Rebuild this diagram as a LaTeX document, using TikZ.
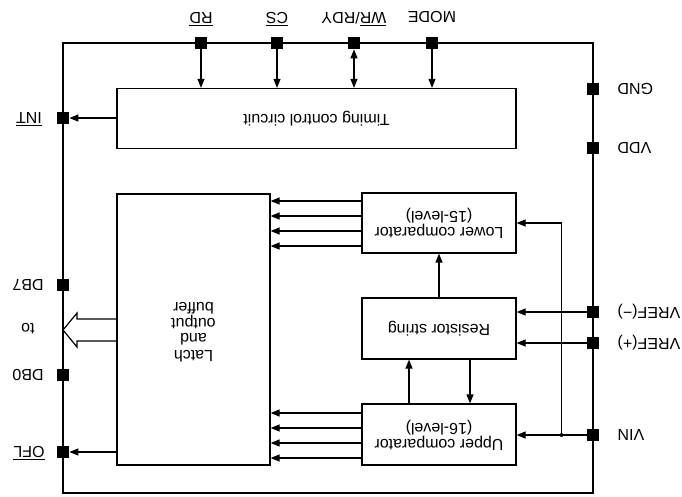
\documentclass[tikz,border=0pt]{standalone}
\usepackage{fontspec}
\setmainfont{Liberation Sans}
\usepackage{graphicx}
\usetikzlibrary{arrows.meta}
\newcommand\ovl[1]{$\overline{\mbox{#1}}$}
\newcommand\rt[1]{\rotatebox{180}{#1}}
\begin{document}
\begin{tikzpicture}[x=1pt,y=-1pt,line width=1.2pt,
  every node/.style={font=\fontsize{16}{15.5}\selectfont},
  box/.style={draw,line width=1.2pt,inner sep=0pt},
  pinsq/.style={fill=black,minimum size=11.5pt,inner sep=0pt},
  lab/.style={inner sep=0pt},
  arr/.style={-{Triangle[length=9pt,width=7pt]}},
  darr/.style={{Triangle[length=9pt,width=7pt]}-{Triangle[length=9pt,width=7pt]}},
  jdot/.style={circle,fill=black,inner sep=0pt,minimum size=4pt}]
\useasboundingbox (0,0) rectangle (682,496);
% frame
\draw (63,43) rectangle (593,493);
% boxes
\node[box,minimum width=399pt,minimum height=60pt] (tim) at (316.5,118.5) {\rt{Timing control circuit}};
\node[box,minimum width=153pt,minimum height=271pt] (latch) at (193.5,329.5) {\rt{\begin{tabular}{@{}c@{}}Latch\\and\\output\\buffer\end{tabular}}};
\node[box,minimum width=154pt,minimum height=60pt] (lc) at (439,223) {\rt{\begin{tabular}{@{}c@{}}Lower comparator\\(15-level)\end{tabular}}};
\node[box,minimum width=154pt,minimum height=61pt] (rs) at (439,328.5) {\rt{Resistor string}};
\node[box,minimum width=154pt,minimum height=61pt] (uc) at (439,434.5) {\rt{\begin{tabular}{@{}c@{}}Upper comparator\\(16-level)\end{tabular}}};
% pins
\node[pinsq] (prd) at (201,43) {};
\node[pinsq] (pcs) at (277,43) {};
\node[pinsq] (pwr) at (354,43) {};
\node[pinsq] (pmode) at (432,43) {};
\node[pinsq] (pint) at (63,118) {};
\node[pinsq] (pdb7) at (63,285) {};
\node[pinsq] (pdb0) at (63,375) {};
\node[pinsq] (pofl) at (63,452) {};
\node[pinsq] (pgnd) at (593,89) {};
\node[pinsq] (pvdd) at (593,148) {};
\node[pinsq] (pvm) at (593,312) {};
\node[pinsq] (pvp) at (593,343) {};
\node[pinsq] (pvin) at (593,435) {};
% labels
\node[lab] (lrd) at (201,19) {\rt{\ovl{RD}}};
\node[lab] (lcs) at (277,19) {\rt{\ovl{CS}}};
\node[lab] (lwr) at (354,19) {\rt{\ovl{WR}/RDY}};
\node[lab] (lmode) at (432,17) {\rt{MODE}};
\node[lab] (lint) at (29,119) {\rt{\ovl{INT}}};
\node[lab] (ldb7) at (28,285) {\rt{DB7}};
\node[lab] (lto) at (28,329) {\rt{to}};
\node[lab] (ldb0) at (28,375) {\rt{DB0}};
\node[lab] (lofl) at (29,453) {\rt{\ovl{OFL}}};
\node[lab,anchor=west] (lgnd) at (617,89) {\rt{GND}};
\node[lab,anchor=west] (lvdd) at (617,148) {\rt{VDD}};
\node[lab,anchor=west] (lvm) at (617,312) {\rt{VREF(−)}};
\node[lab,anchor=west] (lvp) at (617,343) {\rt{VREF(+)}};
\node[lab,anchor=west] (lvin) at (617,435) {\rt{VIN}};
% connectors
\draw[arr] (prd) -- (prd |- tim.north);
\draw[arr] (pcs) -- (pcs |- tim.north);
\draw[darr] (pwr) -- (pwr |- tim.north);
\draw[arr] (pmode) -- (pmode |- tim.north);
\draw[arr] (tim.west |- pint) -- (pint);
\draw[arr] (latch.west |- pofl) -- (pofl);
\foreach \yy in {201,216,231,246} \draw[arr] (lc.west |- 0,\yy) -- (latch.east |- 0,\yy);
\foreach \yy in {413,428,443,458} \draw[arr] (uc.west |- 0,\yy) -- (latch.east |- 0,\yy);
\draw[arr] (rs.north) -- (lc.south);
\draw[arr] ([xshift=-30pt]uc.north) -- ([xshift=-30pt]rs.south);
\draw[arr] ([xshift=31pt]rs.south) -- ([xshift=31pt]uc.north);
\draw[arr] (pvm) -- (rs.east |- pvm);
\draw[arr] (pvp) -- (rs.east |- pvp);
\draw[arr] (pvin) -- (uc.east |- pvin);
\coordinate (j) at (561.5,435);
\node[jdot] (jd) at (j) {};
\draw[arr] (j) |- (lc.east);
% hollow bus arrow
\draw (latch.west |- 0,319) -- (77,319) -- (77,313) -- (63,330) -- (77,347) -- (77,341) -- (latch.west |- 0,341);
\end{tikzpicture}
\end{document}
